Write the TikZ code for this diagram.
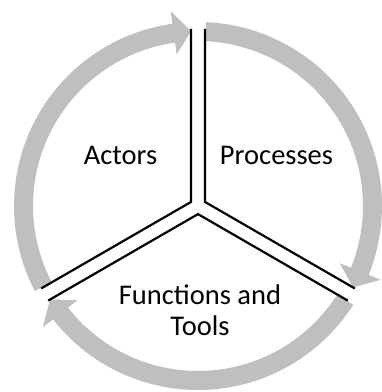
\documentclass[tikz,border=0pt]{standalone}
\usepackage{fontspec}
\setmainfont{Carlito}
\usepackage{tikz}
\definecolor{ringgray}{RGB}{191,191,191}

\begin{document}
\begin{tikzpicture}[
		x=1pt,y=1pt,
		edge/.style={line width=2.2pt},
		ring/.style={fill=ringgray,draw=none},
		every node/.style={font=\fontsize{28.5}{31}\selectfont,align=center}]

		\useasboundingbox (-198,-186) rectangle (184,206);

		\foreach \b in {90,-30,-150}
			\fill[ring] ({\b-2.5}:184) arc[start angle=\b-2.5, end angle=\b-112, radius=184]
				-- ({\b-112}:197) -- ({\b-117.7}:175) -- ({\b-112}:153) -- ({\b-112}:165)
				arc[start angle=\b-112, end angle=\b-2.5, radius=165] -- cycle;

		\coordinate (A) at (150:8.1);
		\coordinate (P) at (30:8.1);
		\coordinate (F) at (270:8.1);

		\draw[edge] (A) ++(90:173) -- (A) -- ++(210:173);
		\draw[edge] (P) ++(90:173) -- (P) -- ++(-30:173);
		\draw[edge] (F) ++(210:173) -- (F) -- ++(-30:173);

		\node (actors) at (-77.5,50.5) {Actors};
		\node (processes) at (78.5,50.5) {Processes};
		\node (functions) at (2,-104) {Functions and\\Tools};

\end{tikzpicture}
\end{document}
